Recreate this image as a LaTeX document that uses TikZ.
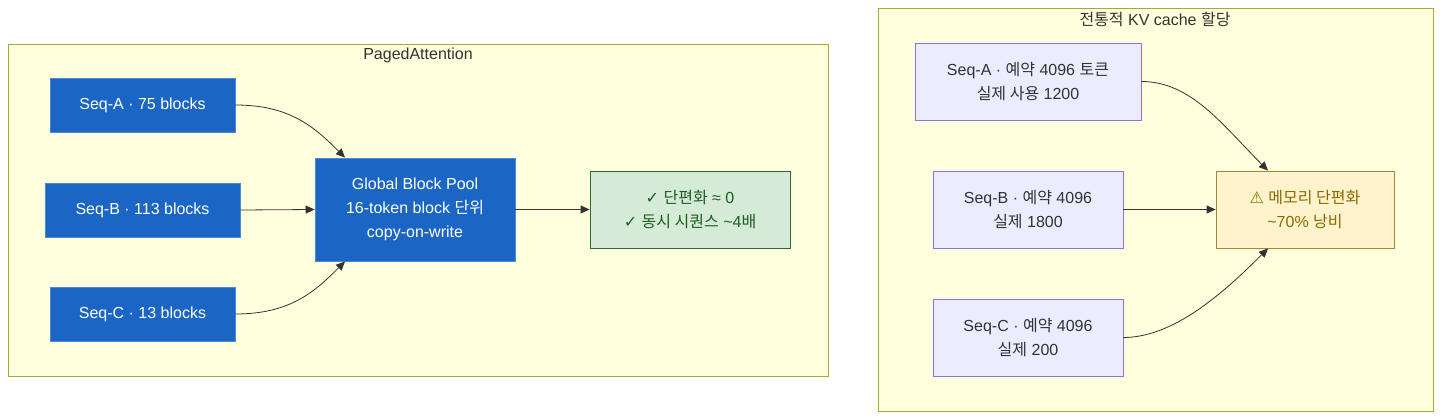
\documentclass[tikz,border=0pt]{standalone}
\usepackage{fontspec}
\setmainfont{Liberation Sans}
\newfontfamily\kr{Noto Sans CJK KR}
\newfontfamily\sym{DejaVu Sans}
\usetikzlibrary{arrows.meta}
\definecolor{clfill}{HTML}{FFFFDE}
\definecolor{clline}{HTML}{AAAA33}
\definecolor{bluefill}{HTML}{1B66C4}
\definecolor{blueline}{HTML}{4A8AD4}
\definecolor{grfill}{HTML}{D5EBD8}
\definecolor{grline}{HTML}{2E6B30}
\definecolor{grtext}{HTML}{1B5E20}
\definecolor{wfill}{HTML}{FFF3CD}
\definecolor{wline}{HTML}{A08A3A}
\definecolor{wtext}{HTML}{8A6A00}
\definecolor{lvfill}{HTML}{ECECFF}
\definecolor{lvline}{HTML}{9370DB}
\definecolor{txt}{HTML}{333333}
\tikzset{
  base/.style={rectangle, inner sep=0pt, align=center, font=\fontsize{16}{24}\selectfont, line width=0.8pt},
  bluebox/.style={base, fill=bluefill, draw=blueline, text=white},
  greenbox/.style={base, fill=grfill, draw=grline, text=grtext},
  warnbox/.style={base, fill=wfill, draw=wline, text=wtext},
  lavbox/.style={base, fill=lvfill, draw=lvline, text=txt},
  cluster/.style={fill=clfill, draw=clline, line width=0.8pt},
  ctitle/.style={font=\fontsize{16}{20}\selectfont, text=txt, inner sep=0pt},
  conn/.style={draw=txt, line width=0.8pt, -{Triangle[length=9pt,width=8pt]}},
}
\begin{document}
\begin{tikzpicture}[x=1pt,y=-1pt]
\useasboundingbox (0,0) rectangle (1441,420);
% clusters
\draw[cluster] (8,44) rectangle (828,376);
\draw[cluster] (878,8) rectangle (1433,411);
\node[ctitle] (t1) at (418,55) {PagedAttention};
\node[ctitle] (t2) at (1155,19) {{\kr 전통적} KV cache {\kr 할당}};
% left nodes
\node[bluebox, minimum width=185pt, minimum height=54pt] (sa) at (142.5,105) {Seq-A · 75 blocks};
\node[bluebox, minimum width=195pt, minimum height=54pt] (sb) at (142.5,210) {Seq-B · 113 blocks};
\node[bluebox, minimum width=185pt, minimum height=54pt] (sc) at (142.5,314) {Seq-C · 13 blocks};
\node[bluebox, minimum width=200pt, minimum height=103pt] (pool) at (415,209.5) {Global Block Pool\\16-token block {\kr 단위}\\copy-on-write};
\node[greenbox, minimum width=200pt, minimum height=77pt] (ok) at (690,209.5) {{\sym ✓} {\kr 단편화} ≈ 0\\{\sym ✓} {\kr 동시 시퀀스} \textasciitilde4{\kr 배}};
% right nodes
\node[lavbox, minimum width=226pt, minimum height=77pt] (ra) at (1028,81.5) {Seq-A · {\kr 예약} 4096 {\kr 토큰}\\{\kr 실제 사용} 1200};
\node[lavbox, minimum width=190pt, minimum height=77pt] (rb) at (1028,209.5) {Seq-B · {\kr 예약} 4096\\{\kr 실제} 1800};
\node[lavbox, minimum width=190pt, minimum height=77pt] (rc) at (1028,337.5) {Seq-C · {\kr 예약} 4096\\{\kr 실제} 200};
\node[warnbox, minimum width=178pt, minimum height=77pt] (warn) at (1305,209.5) {{\sym ⚠} {\kr 메모리 단편화}\\\textasciitilde70\% {\kr 낭비}};
% connectors
\draw[conn] (sa.east) .. controls +(55,0) and +(-30,-30) .. ([xshift=-70pt]pool.north);
\draw[conn] (sb.east) -- (pool.west);
\draw[conn] (sc.east) .. controls +(55,0) and +(-30,30) .. ([xshift=-70pt]pool.south);
\draw[conn] (pool.east) -- (ok.west);
\draw[conn] (ra.east) .. controls +(50,0) and +(-45,-45) .. ([xshift=-37pt]warn.north);
\draw[conn] (rb.east) -- (warn.west);
\draw[conn] (rc.east) .. controls +(50,0) and +(-45,45) .. ([xshift=-37pt]warn.south);
\end{tikzpicture}
\end{document}
